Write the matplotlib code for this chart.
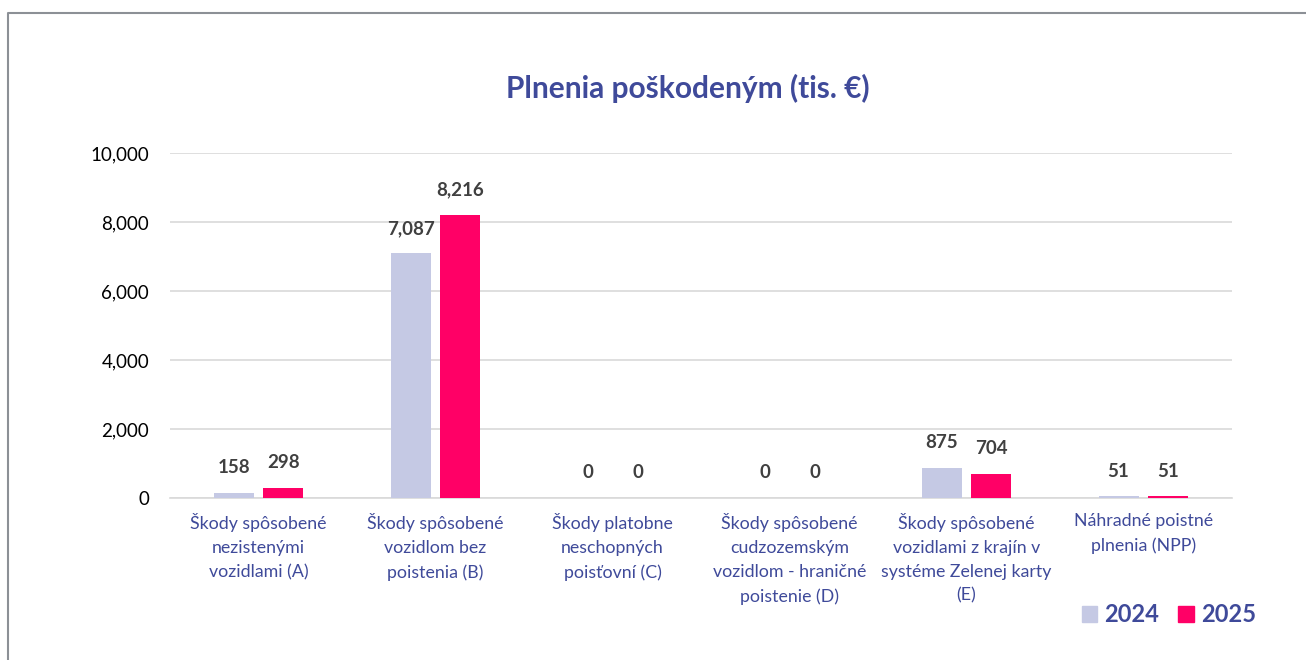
import matplotlib
matplotlib.use("Agg")
import matplotlib.pyplot as plt
from matplotlib.lines import Line2D
from matplotlib.patches import Patch
import numpy as np

categories = [
    "Škody spôsobené\nnezistenými\nvozidlami (A)",
    "Škody spôsobené\nvozidlom bez\npoistenia (B)",
    "Škody platobne\nneschopných\npoisťovní (C)",
    "Škody spôsobené\ncudzozemským\nvozidlom - hraničné\npoistenie (D)",
    "Škody spôsobené\nvozidlami z krajín v\nsystéme Zelenej karty\n(E)",
    "Náhradné poistné\nplnenia (NPP)",
]
values_2024 = [158, 7087, 0, 0, 875, 51]
values_2025 = [298, 8216, 0, 0, 704, 51]
series_names = ["2024", "2025"]

plt.rcParams["font.family"] = ["Lato", "DejaVu Sans"]

blue = "#3F4A9A"
c2024 = "#C5C9E4"
c2025 = "#FF0066"

fig = plt.figure(figsize=(13.06, 6.6), dpi=100)
ax = fig.add_axes([170 / 1306, 1 - 498 / 660, 1062 / 1306, 345 / 660])

x = np.arange(len(categories))
w = 0.226
off = 0.141
b1 = ax.bar(x - off, values_2024, w, color=c2024, zorder=3)
b2 = ax.bar(x + off, values_2025, w, color=c2025, zorder=3)

for bars in (b1, b2):
    for rect in bars:
        h = rect.get_height()
        ax.annotate(f"{h:,.0f}", (rect.get_x() + rect.get_width() / 2, h),
                    xytext=(0, 18), textcoords="offset points",
                    ha="center", va="center", fontsize=13.5, weight="bold",
                    color="#404040")

ax.set_xlim(-0.5, len(categories) - 0.5)
ax.set_ylim(0, 10000)
ax.set_yticks(range(0, 10001, 2000))
ax.set_yticklabels([f"{v:,}" for v in range(0, 10001, 2000)], fontsize=13.5)
ax.set_xticks(x)
ax.set_xticklabels(categories, fontsize=12.8, color=blue, linespacing=1.6)
ax.tick_params(axis="both", length=0)
ax.tick_params(axis="x", pad=11)
ax.tick_params(axis="y", pad=15)
ax.grid(axis="y", color="#D9D9D9", linewidth=1.2, zorder=0)
for s in ["top", "right", "left"]:
    ax.spines[s].set_visible(False)
ax.spines["bottom"].set_color("#D9D9D9")
ax.spines["bottom"].set_linewidth(1.2)

fig.text(0.527, 1 - 88 / 660, "Plnenia poškodeným (tis. €)", ha="center",
         va="center", fontsize=21.5, weight="bold", color=blue)

handles = [Patch(color=c2024), Patch(color=c2025)]
fig.legend(handles, series_names, loc="center", bbox_to_anchor=(1169 / 1306, 1 - 615 / 660),
           ncol=2, frameon=False, handlelength=0.65, handleheight=0.65,
           handletextpad=0.3, columnspacing=0.8,
           prop={"size": 17, "weight": "bold"}, labelcolor=blue)

# outer frame (top and left edges only)
fig.add_artist(Line2D([8 / 1306, 8 / 1306, 1], [0, 1 - 13 / 660, 1 - 13 / 660],
                      transform=fig.transFigure, color="#8C9096", linewidth=1.5))

fig.savefig("out.png", dpi=100)
